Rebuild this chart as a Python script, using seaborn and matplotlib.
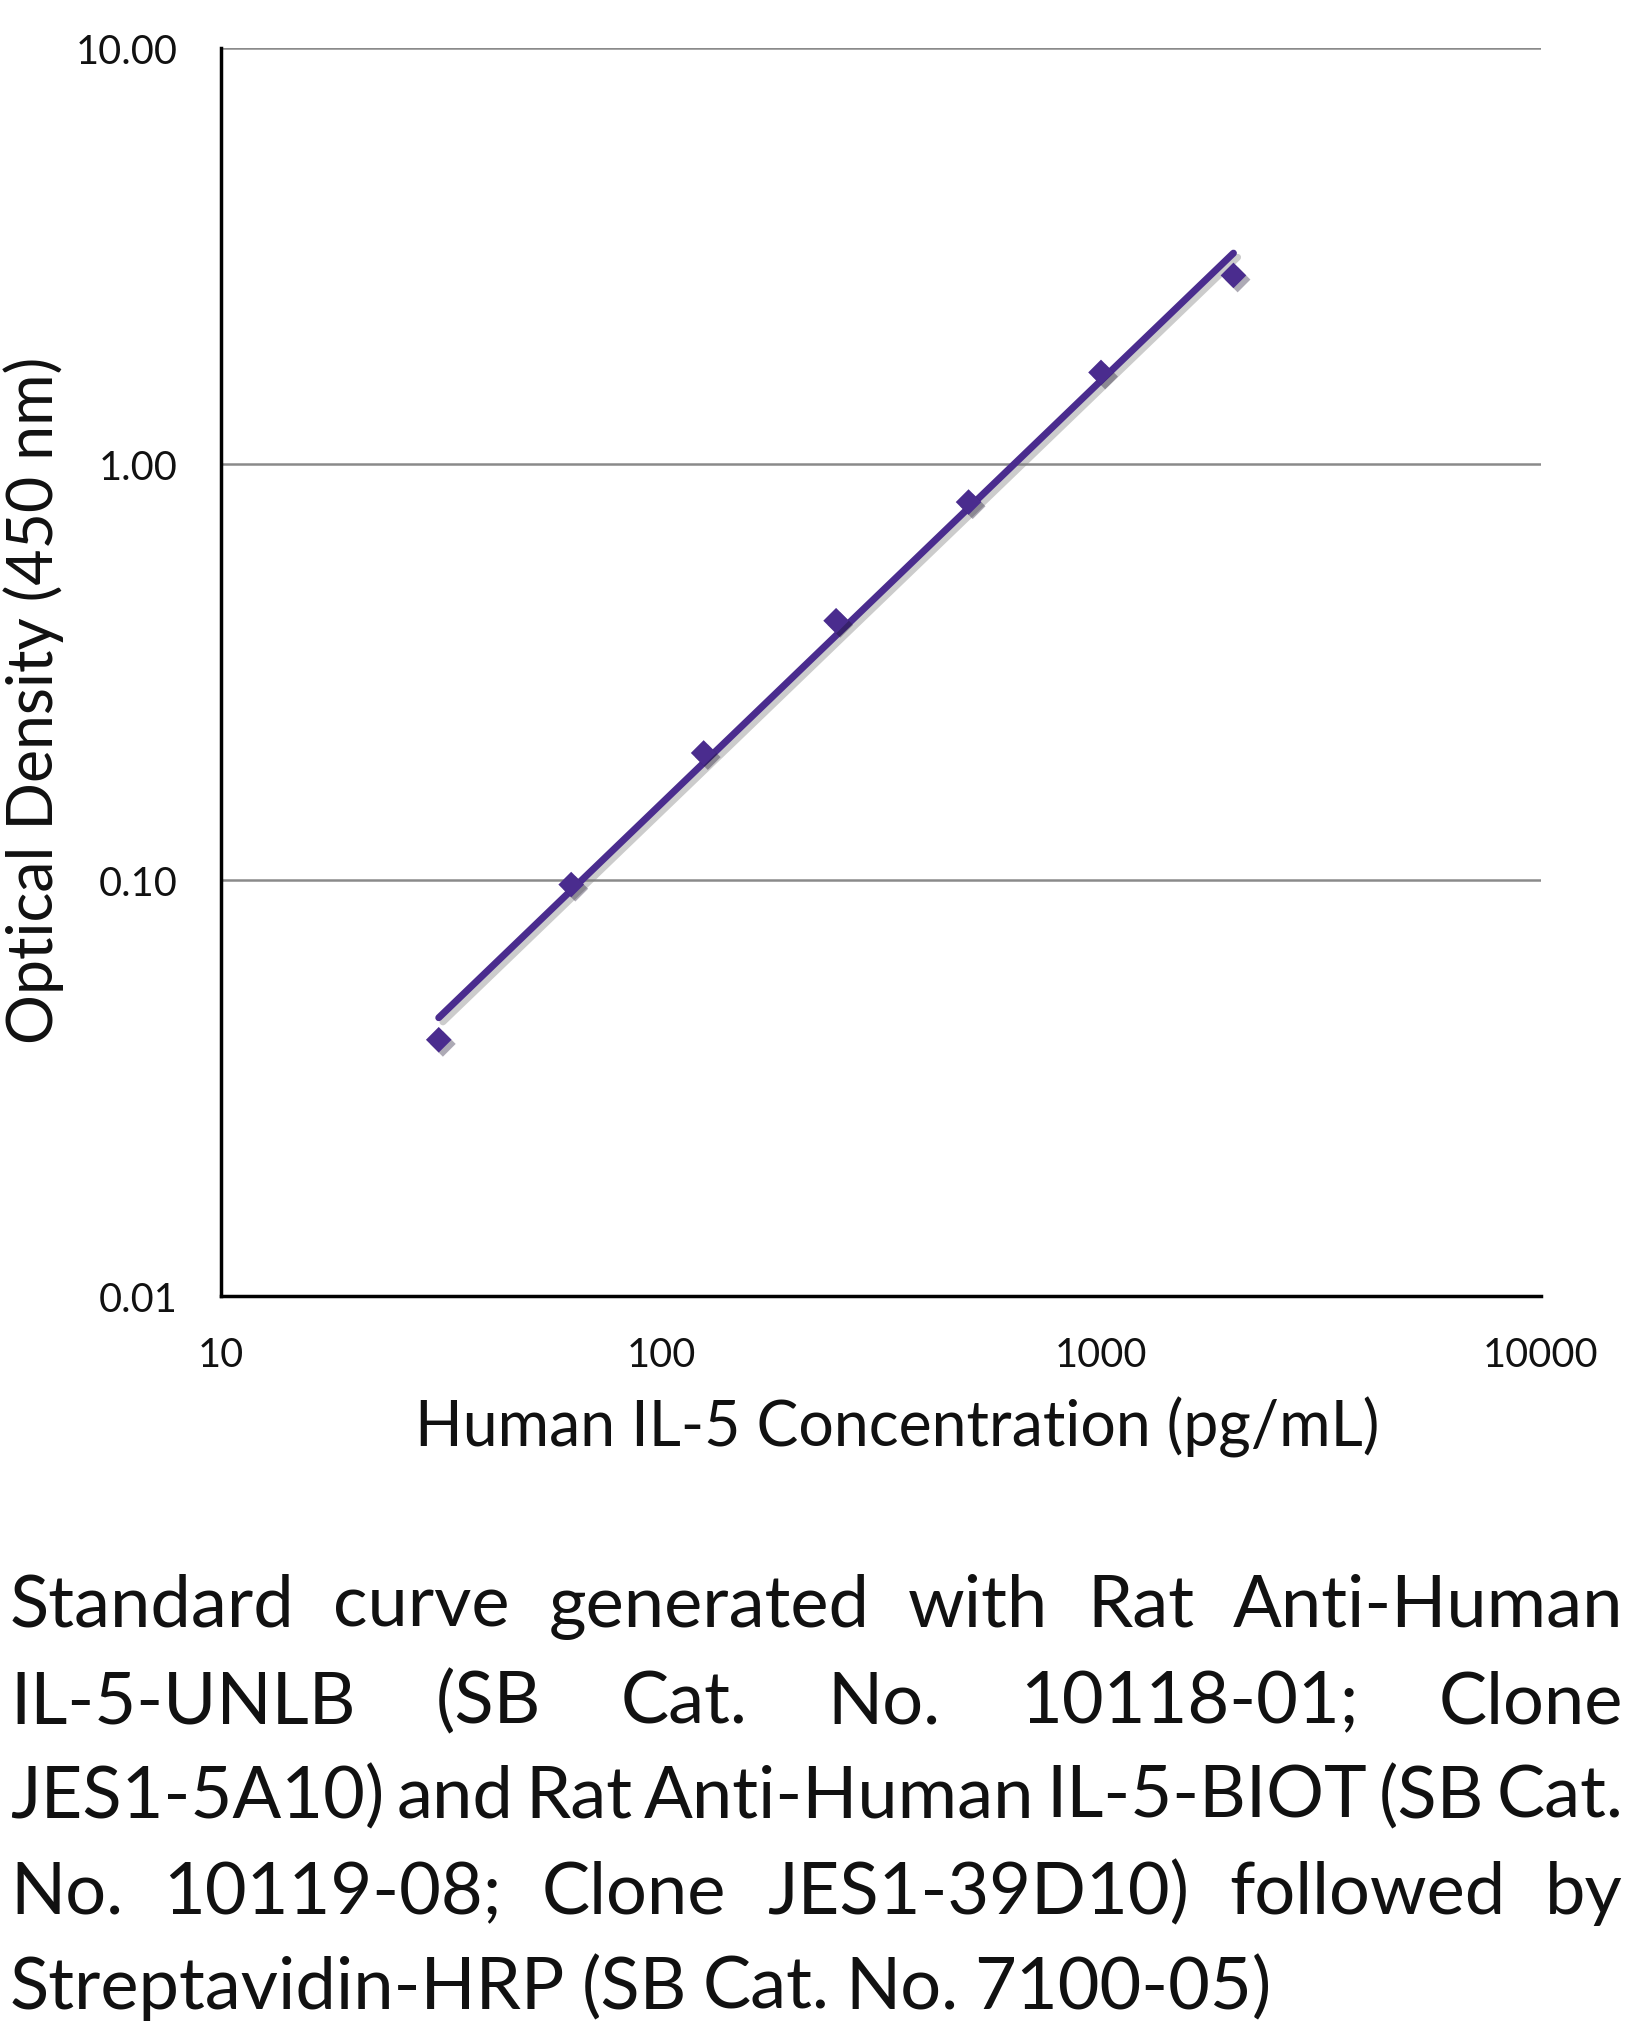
import matplotlib
matplotlib.use("Agg")
import matplotlib.pyplot as plt
import matplotlib.patheffects as pe
from matplotlib.ticker import FixedLocator, LogLocator, NullFormatter
import numpy as np
import pandas as pd
import seaborn as sns

# standard curve values
concentration = [31.25, 62.5, 125, 250, 500, 1000, 2000]
optical_density = [0.0413, 0.0975, 0.202, 0.42, 0.81, 1.66, 2.84]

y_ticks = [0.01, 0.1, 1, 10]
y_tick_labels = ["0.01", "0.10", "1.00", "10.00"]
x_ticks = [10, 100, 1000, 10000]
x_tick_labels = ["10", "100", "1000", "10000"]

caption_lines = [
    "Standard curve generated with Rat Anti-Human",
    "IL-5-UNLB (SB Cat. No. 10118-01; Clone",
    "JES1-5A10) and Rat Anti-Human IL-5-BIOT (SB Cat.",
    "No. 10119-08; Clone JES1-39D10) followed by",
    "Streptavidin-HRP (SB Cat. No. 7100-05)",
]

PURPLE = "#4a2c8e"

sns.set_theme(style="white")
plt.rcParams["font.family"] = ["Lato", "DejaVu Sans"]

df = pd.DataFrame({"conc": concentration, "od": optical_density})

# power trendline (straight line in log-log space)
slope, intercept = np.polyfit(np.log10(df["conc"]), np.log10(df["od"]), 1)
fit = pd.DataFrame({"conc": [concentration[0], concentration[-1]]})
fit["od"] = 10 ** (intercept + slope * np.log10(fit["conc"]))

W, H = 1646, 2024
fig = plt.figure(figsize=(W / 100, H / 100), dpi=100)
ax = fig.add_axes([221 / W, 1 - 1297 / H, 1320 / W, 1248 / H])
ax.set_xscale("log")
ax.set_yscale("log")

shadow = [pe.SimpleLineShadow(offset=(3, -3), shadow_color="gray", alpha=0.4), pe.Normal()]

sns.lineplot(data=fit, x="conc", y="od", ax=ax, color=PURPLE, linewidth=5,
             solid_capstyle="round", path_effects=shadow)
sns.scatterplot(data=df, x="conc", y="od", ax=ax, color=PURPLE, marker="D", s=170,
                edgecolor=PURPLE, linewidth=0, zorder=3,
                path_effects=[pe.SimplePatchShadow(offset=(3, -3), alpha=0.35), pe.Normal()])

ax.set_xlim(10, 10000)
ax.set_ylim(0.01, 10)

for yv in [0.1, 1, 10]:
    ax.axhline(yv, color="#8a8a8a", linewidth=1.8, zorder=0)

ax.yaxis.set_major_locator(FixedLocator(y_ticks))
ax.set_yticklabels(y_tick_labels)
ax.yaxis.set_minor_formatter(NullFormatter())
ax.tick_params(axis="y", which="both", length=0, pad=31, labelsize=28.5, labelcolor="#111111")

ax.xaxis.set_major_locator(FixedLocator(x_ticks))
ax.set_xticklabels(x_tick_labels)
ax.xaxis.set_minor_locator(LogLocator(base=10, subs=np.arange(2, 10)))
ax.xaxis.set_minor_formatter(NullFormatter())
ax.tick_params(axis="x", which="major", direction="in", length=9, width=2, pad=29,
               labelsize=28.5, labelcolor="#111111", color="black")
ax.tick_params(axis="x", which="minor", direction="in", length=9, width=2, color="black")

for side in ["top", "right"]:
    ax.spines[side].set_visible(False)
for side in ["left", "bottom"]:
    ax.spines[side].set_color("black")
    ax.spines[side].set_linewidth(2.5)

ax.set_xlabel("Human IL-5 Concentration (pg/mL)", fontsize=45, color="#111111", labelpad=16)
ax.xaxis.label.set_x(0.512)
ax.set_ylabel("Optical Density (450 nm)", fontsize=45, color="#111111")
ax.yaxis.set_label_coords(-0.119, 0.478)

# justified caption under the chart
fig.canvas.draw()
renderer = fig.canvas.get_renderer()
left_px, right_px = 10, 1623
baselines = [1627, 1723, 1818, 1914, 2009]
for i, line in enumerate(caption_lines):
    words = line.split()
    texts = [fig.text(0, 1 - baselines[i] / H, w, fontsize=52, color="#111111",
                      va="baseline", ha="left") for w in words]
    widths = [t.get_window_extent(renderer).width for t in texts]
    if i == len(caption_lines) - 1:
        gap = 0.22 * 52 * 100 / 72
    else:
        gap = (right_px - left_px - sum(widths)) / (len(words) - 1)
    x = left_px
    for t, w in zip(texts, widths):
        t.set_x(x / W)
        x += w + gap

fig.savefig("out.png", dpi=100, facecolor="white")
